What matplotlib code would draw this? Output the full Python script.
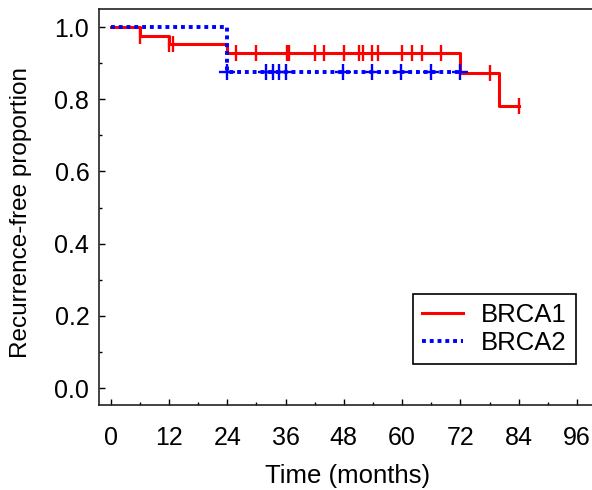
import matplotlib
matplotlib.use('Agg')
import matplotlib.pyplot as plt
from matplotlib.ticker import MultipleLocator

plt.rcParams['font.family'] = ['Liberation Sans', 'DejaVu Sans']

# BRCA1 step curve (time in months, recurrence-free proportion)
brca1_t = [0, 6, 12, 24, 72, 80, 84]
brca1_s = [1.0, 0.976, 0.953, 0.927, 0.874, 0.781, 0.781]
brca1_cens_t = [6, 12, 12.8, 25.8, 29.9, 36.2, 36.8, 42.0, 44.0, 48.0, 51.1, 51.9,
                53.7, 55.0, 60.0, 62.0, 64.0, 67.9, 78.0, 84.0]
brca1_cens_s = [0.976, 0.953, 0.953] + [0.927] * 15 + [0.874, 0.781]

# BRCA2 step curve
brca2_t = [0, 24, 72]
brca2_s = [1.0, 0.875, 0.875]
brca2_cens_t = [24, 32.0, 33.4, 34.6, 36.0, 47.9, 53.8, 59.8, 65.9, 71.9]
brca2_cens_s = [0.875] * 10

xticks = [0, 12, 24, 36, 48, 60, 72, 84, 96]
yticks = [0.0, 0.2, 0.4, 0.6, 0.8, 1.0]

fig = plt.figure(figsize=(5.92, 4.9), dpi=100)
ax = fig.add_axes([99 / 592, 85 / 490, (596 - 99) / 592, (481 - 85) / 490])

ax.step(brca1_t, brca1_s, where='post', color='#ff0000', lw=2.2, label='BRCA1', zorder=2)
ax.plot(brca1_cens_t, brca1_cens_s, ls='none', marker='|', ms=12, mew=1.7,
        color='#ff0000', zorder=2)
ax.step(brca2_t, brca2_s, where='post', color='#0000ff', lw=2.8,
        ls=(0, (1, 1)), label='BRCA2', zorder=3)
ax.plot(brca2_cens_t, brca2_cens_s, ls='none', marker='+', ms=12, mew=1.7,
        color='#0000ff', zorder=3)

ax.set_xlim(-2.4, 99.9)
ax.set_ylim(-0.047, 1.05)
ax.set_xticks(xticks)
ax.set_yticks(yticks)
ax.set_yticklabels([f'{v:.1f}' for v in yticks])
ax.xaxis.set_minor_locator(MultipleLocator(6))
ax.yaxis.set_minor_locator(MultipleLocator(0.1))
ax.tick_params(which='major', direction='in', length=4, width=1, labelsize=18)
ax.tick_params(which='minor', direction='in', length=2, width=1)
ax.tick_params(axis='x', pad=15)
ax.tick_params(axis='y', pad=7)
ax.spines['right'].set_visible(False)
for s in ['left', 'bottom', 'top']:
    ax.spines[s].set_linewidth(1.2)
    ax.spines[s].set_color('#222222')

ax.set_xlabel('Time (months)', fontsize=18.5, labelpad=10)
ax.set_ylabel('Recurrence-free proportion', fontsize=17.5)
ax.yaxis.set_label_coords(-0.135, 0.487)

leg = fig.legend(loc='lower right', bbox_to_anchor=(576 / 592, 126 / 490), fontsize=18.5,
                 frameon=True, fancybox=False, edgecolor='black', framealpha=1,
                 handlelength=1.6, borderaxespad=0, borderpad=0.35,
                 labelspacing=0.15, handletextpad=0.7)
leg.get_frame().set_linewidth(1.2)

fig.savefig('out.png', dpi=100)
